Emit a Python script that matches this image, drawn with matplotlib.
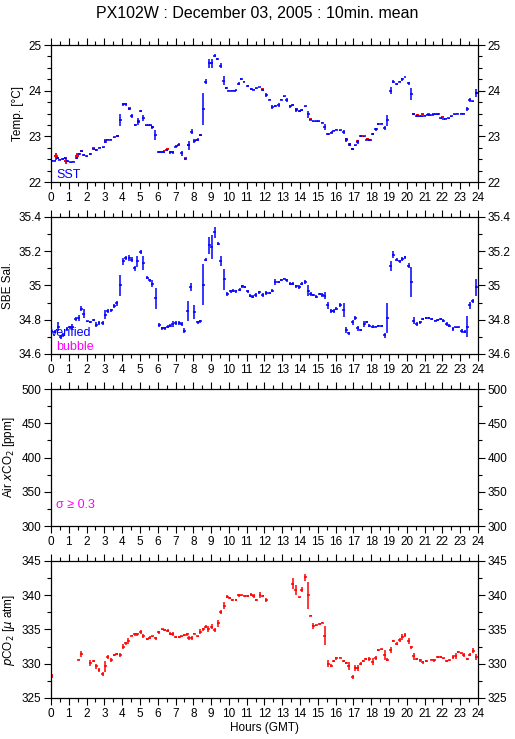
import numpy as np
import matplotlib
matplotlib.use('Agg')
import matplotlib.pyplot as plt
from matplotlib.ticker import MultipleLocator

plt.rcParams['font.family'] = ['Liberation Sans', 'DejaVu Sans']
plt.rcParams['font.size'] = 8.5

# ---- SST (blue) ----
temp_hours = [0.05, 0.2, 0.37, 0.5, 0.65, 0.8, 0.95, 1.1, 1.25, 1.45, 1.6, 1.72, 1.85, 2.0, 2.2, 2.4,
              2.55, 2.75, 2.95, 3.05, 3.2, 3.35, 3.55, 3.75, 3.9, 4.05, 4.2, 4.4, 4.55, 4.75, 4.9, 5.05,
              5.2, 5.35, 5.5, 5.6, 5.7, 5.85, 6.05, 6.2, 6.35, 6.5, 6.7, 6.85, 7.0, 7.15, 7.35, 7.55,
              7.75, 7.9, 8.05, 8.25, 8.4, 8.55, 8.7, 8.9, 9.05, 9.2, 9.35, 9.55, 9.7, 9.85, 10.0, 10.15,
              10.3, 10.4, 10.55, 10.7, 10.85, 11.05, 11.25, 11.4, 11.55, 11.7, 11.9, 12.1, 12.3, 12.45,
              12.6, 12.8, 12.95, 13.1, 13.25, 13.45, 13.6, 13.8, 13.95, 14.1, 14.3, 14.45, 14.6, 14.75,
              14.9, 15.05, 15.25, 15.4, 15.55, 15.75, 15.9, 16.05, 16.25, 16.45, 16.6, 16.8, 16.95, 17.1,
              17.25, 17.4, 17.6, 17.75, 17.9, 18.1, 18.25, 18.4, 18.6, 18.75, 18.9, 19.1, 19.25, 19.45,
              19.6, 19.75, 19.9, 20.1, 20.25, 20.4, 20.55, 20.7, 20.85, 21.0, 21.15, 21.3, 21.45, 21.6,
              21.75, 21.9, 22.05, 22.2, 22.35, 22.5, 22.7, 22.85, 23.05, 23.2, 23.4, 23.55, 23.7, 23.9]
temp_vals = [22.47, 22.47, 22.52, 22.49, 22.5, 22.53, 22.45, 22.43, 22.44, 22.52, 22.62, 22.67, 22.6,
             22.56, 22.62, 22.72, 22.7, 22.75, 22.76, 22.88, 22.93, 22.93, 22.98, 23.0, 23.35, 23.7,
             23.7, 23.6, 23.45, 23.25, 23.32, 23.55, 23.4, 23.24, 23.24, 23.24, 23.2, 23.03, 22.66,
             22.65, 22.65, 22.7, 22.65, 22.65, 22.77, 22.8, 22.63, 22.5, 22.8, 23.1, 22.9, 22.93, 23.02,
             23.6, 24.2, 24.6, 24.6, 24.77, 24.7, 24.55, 24.22, 24.05, 24.0, 24.0, 24.0, 24.01, 24.15,
             24.25, 24.2, 24.1, 24.03, 24.02, 24.05, 24.08, 24.01, 23.9, 23.8, 23.64, 23.67, 23.69, 23.8,
             23.88, 23.8, 23.66, 23.68, 23.57, 23.55, 23.57, 23.66, 23.48, 23.36, 23.33, 23.33, 23.33,
             23.3, 23.2, 23.05, 23.08, 23.12, 23.14, 23.13, 23.1, 22.92, 22.82, 22.72, 22.8, 22.87, 23.0,
             23.0, 22.93, 22.92, 23.05, 23.15, 23.27, 23.28, 23.18, 23.35, 24.0, 24.2, 24.15, 24.2, 24.25,
             24.3, 24.16, 23.92, 23.48, 23.45, 23.44, 23.44, 23.45, 23.47, 23.46, 23.47, 23.48, 23.48,
             23.4, 23.38, 23.39, 23.4, 23.44, 23.48, 23.5, 23.5, 23.5, 23.6, 23.8, 23.77, 23.95]
temp_err = [0.01, 0.01, 0.02, 0.01, 0.02, 0.02, 0.01, 0.01, 0.01, 0.02, 0.02, 0.01, 0.02, 0.02, 0.02,
            0.01, 0.02, 0.01, 0.01, 0.03, 0.02, 0.01, 0.01, 0.01, 0.13, 0.03, 0.03, 0.02, 0.05, 0.02,
            0.08, 0.02, 0.07, 0.01, 0.01, 0.01, 0.03, 0.1, 0.02, 0.02, 0.01, 0.01, 0.04, 0.04, 0.01,
            0.02, 0.05, 0.01, 0.1, 0.05, 0.04, 0.04, 0.01, 0.35, 0.06, 0.1, 0.1, 0.03, 0.02, 0.05, 0.1,
            0.02, 0.01, 0.01, 0.01, 0.01, 0.03, 0.02, 0.02, 0.02, 0.02, 0.01, 0.01, 0.01, 0.01, 0.04,
            0.01, 0.05, 0.02, 0.04, 0.01, 0.01, 0.04, 0.03, 0.02, 0.04, 0.01, 0.02, 0.01, 0.08, 0.01,
            0.01, 0.01, 0.01, 0.01, 0.06, 0.01, 0.01, 0.01, 0.01, 0.01, 0.04, 0.04, 0.03, 0.02, 0.01,
            0.04, 0.01, 0.01, 0.02, 0.02, 0.03, 0.04, 0.02, 0.01, 0.05, 0.12, 0.08, 0.03, 0.02, 0.02,
            0.03, 0.01, 0.03, 0.13, 0.02, 0.02, 0.01, 0.01, 0.01, 0.01, 0.01, 0.01, 0.01, 0.01, 0.01,
            0.01, 0.01, 0.01, 0.01, 0.01, 0.01, 0.01, 0.01, 0.05, 0.04, 0.01, 0.08]

# ---- equilibrator temperature (red, mostly hidden) ----
eq_hours = [0.3, 0.85, 1.45, 1.7, 2.4, 3.05, 3.75, 4.4, 4.9, 5.7, 6.35, 6.55, 7.05, 7.2, 7.55, 7.75,
            8.15, 8.4, 11.9, 13.8, 14.0, 14.6, 15.6, 15.8, 16.6, 16.8, 16.95, 17.25, 17.45, 17.8,
            17.95, 18.1, 18.3, 20.4, 20.6, 20.9, 21.2, 21.5, 21.8, 22.0, 23.9]
eq_vals = [22.55, 22.45, 22.56, 22.67, 22.73, 22.92, 23.0, 23.6, 23.33, 23.2, 22.66, 22.71, 22.78,
           22.82, 22.51, 22.8, 22.92, 23.02, 24.02, 23.58, 23.55, 23.36, 23.05, 23.08, 22.93, 22.82,
           22.72, 22.88, 23.0, 22.94, 22.92, 23.05, 23.15, 23.48, 23.46, 23.47, 23.48, 23.48, 23.48,
           23.41, 23.95]
eq_err = [0.08, 0.07, 0.06, 0.01, 0.01, 0.01, 0.01, 0.01, 0.01, 0.01, 0.01, 0.01, 0.01, 0.01, 0.01,
          0.01, 0.01, 0.01, 0.01, 0.01, 0.01, 0.01, 0.01, 0.01, 0.01, 0.01, 0.01, 0.01, 0.01, 0.01,
          0.01, 0.01, 0.01, 0.01, 0.01, 0.01, 0.01, 0.01, 0.01, 0.01, 0.01]
eq_xerr = [0.12, 0.12, 0.1, 0.08, 0.08, 0.08, 0.08, 0.08, 0.08, 0.08, 0.08, 0.08, 0.08, 0.08, 0.08,
           0.08, 0.08, 0.08, 0.08, 0.08, 0.08, 0.08, 0.08, 0.08, 0.08, 0.08, 0.08, 0.08, 0.08, 0.08,
           0.08, 0.08, 0.08, 0.08, 0.08, 0.08, 0.08, 0.08, 0.08, 0.08, 0.08]

# ---- SBE salinity ----
sal_hours = [0.0, 0.2, 0.4, 0.55, 0.7, 0.9, 1.05, 1.2, 1.4, 1.55, 1.7, 1.85, 2.05, 2.2, 2.4, 2.55, 2.7,
             2.9, 3.05, 3.2, 3.4, 3.55, 3.7, 3.9, 4.05, 4.2, 4.4, 4.55, 4.7, 4.85, 5.05, 5.2, 5.4, 5.55,
             5.7, 5.9, 6.1, 6.25, 6.4, 6.55, 6.7, 6.85, 7.0, 7.2, 7.35, 7.5, 7.7, 7.85, 8.05, 8.25, 8.4,
             8.55, 8.7, 8.9, 9.05, 9.2, 9.4, 9.55, 9.75, 9.9, 10.1, 10.25, 10.4, 10.6, 10.75, 10.9,
             11.05, 11.2, 11.35, 11.5, 11.7, 11.9, 12.1, 12.3, 12.45, 12.6, 12.8, 12.95, 13.1, 13.25,
             13.45, 13.6, 13.8, 13.95, 14.1, 14.3, 14.45, 14.6, 14.75, 14.9, 15.1, 15.25, 15.4, 15.55,
             15.75, 15.9, 16.05, 16.25, 16.45, 16.6, 16.75, 16.95, 17.1, 17.25, 17.4, 17.6, 17.75, 17.9,
             18.1, 18.25, 18.4, 18.6, 18.75, 18.9, 19.1, 19.25, 19.45, 19.6, 19.75, 19.9, 20.1, 20.25,
             20.4, 20.55, 20.75, 20.9, 21.1, 21.25, 21.4, 21.6, 21.75, 21.9, 22.05, 22.25, 22.4, 22.6,
             22.75, 22.9, 23.1, 23.25, 23.4, 23.55, 23.7, 23.9]
sal_vals = [34.74, 34.73, 34.76, 34.7, 34.71, 34.745, 34.755, 34.76, 34.805, 34.81, 34.865, 34.835,
            34.79, 34.785, 34.8, 34.77, 34.78, 34.78, 34.83, 34.85, 34.855, 34.88, 34.895, 35.0, 35.14,
            35.16, 35.16, 35.15, 35.1, 35.14, 35.195, 35.13, 35.045, 35.03, 35.01, 34.925, 34.77, 34.75,
            34.75, 34.76, 34.765, 34.775, 34.78, 34.78, 34.775, 34.735, 34.85, 34.99, 34.845, 34.785,
            34.79, 35.005, 35.15, 35.235, 35.225, 35.31, 35.245, 35.145, 35.035, 34.95, 34.965, 34.97,
            34.965, 34.975, 34.995, 34.99, 34.965, 34.94, 34.935, 34.945, 34.96, 34.945, 34.955, 34.955,
            34.97, 35.02, 35.02, 35.03, 35.04, 35.03, 35.01, 35.01, 34.995, 34.99, 35.01, 35.02, 34.97,
            34.95, 34.945, 34.935, 34.95, 34.945, 34.94, 34.885, 34.85, 34.85, 34.865, 34.885, 34.855,
            34.74, 34.72, 34.785, 34.81, 34.75, 34.74, 34.775, 34.785, 34.765, 34.76, 34.76, 34.765,
            34.765, 34.71, 34.81, 35.115, 35.18, 35.15, 35.14, 35.155, 35.165, 35.115, 35.02, 34.795,
            34.775, 34.785, 34.805, 34.81, 34.81, 34.805, 34.795, 34.8, 34.805, 34.795, 34.775, 34.765,
            34.745, 34.755, 34.755, 34.735, 34.73, 34.76, 34.885, 34.91, 34.99]
sal_err = [0.015, 0.01, 0.025, 0.01, 0.01, 0.01, 0.01, 0.015, 0.01, 0.015, 0.015, 0.025, 0.005, 0.005,
           0.005, 0.015, 0.01, 0.01, 0.025, 0.01, 0.01, 0.01, 0.015, 0.06, 0.02, 0.01, 0.02, 0.015,
           0.015, 0.03, 0.01, 0.04, 0.01, 0.01, 0.02, 0.06, 0.01, 0.01, 0.01, 0.01, 0.01, 0.015, 0.01,
           0.01, 0.01, 0.015, 0.06, 0.025, 0.04, 0.01, 0.01, 0.12, 0.01, 0.05, 0.07, 0.03, 0.01, 0.03,
           0.06, 0.01, 0.01, 0.01, 0.01, 0.01, 0.01, 0.005, 0.01, 0.01, 0.01, 0.01, 0.01, 0.01, 0.01,
           0.005, 0.01, 0.015, 0.005, 0.005, 0.005, 0.01, 0.01, 0.01, 0.01, 0.01, 0.01, 0.01, 0.03,
           0.01, 0.005, 0.01, 0.005, 0.01, 0.02, 0.02, 0.01, 0.01, 0.01, 0.01, 0.04, 0.02, 0.01, 0.015,
           0.01, 0.015, 0.005, 0.015, 0.005, 0.01, 0.01, 0.005, 0.005, 0.005, 0.015, 0.09, 0.03, 0.02,
           0.01, 0.01, 0.01, 0.01, 0.015, 0.09, 0.02, 0.01, 0.01, 0.005, 0.005, 0.005, 0.005, 0.005,
           0.005, 0.005, 0.01, 0.01, 0.01, 0.01, 0.005, 0.005, 0.01, 0.01, 0.06, 0.02, 0.01, 0.05]

# ---- pCO2 ----
pco2_hours = [0.05, 1.55, 1.7, 2.2, 2.4, 2.55, 2.7, 2.9, 3.05, 3.2, 3.4, 3.55, 3.7, 3.9, 4.05, 4.2,
              4.35, 4.55, 4.7, 4.85, 5.05, 5.2, 5.4, 5.55, 5.7, 5.9, 6.05, 6.25, 6.4, 6.55, 6.7, 6.85,
              7.0, 7.2, 7.35, 7.5, 7.65, 7.75, 7.9, 8.05, 8.25, 8.4, 8.55, 8.7, 8.85, 9.05, 9.2, 9.4,
              9.55, 9.75, 9.9, 10.05, 10.2, 10.4, 10.55, 10.7, 10.9, 11.05, 11.25, 11.4, 11.55, 11.75,
              11.9, 12.1, 13.6, 13.75, 13.95, 14.1, 14.3, 14.45, 14.6, 14.75, 14.9, 15.1, 15.25, 15.4,
              15.6, 15.75, 15.9, 16.05, 16.25, 16.45, 16.6, 16.75, 16.95, 17.1, 17.25, 17.4, 17.55,
              17.7, 17.9, 18.1, 18.25, 18.4, 18.6, 18.75, 18.9, 19.1, 19.25, 19.45, 19.6, 19.75, 19.9,
              20.1, 20.25, 20.4, 20.55, 20.75, 20.9, 21.1, 21.4, 21.55, 21.75, 21.9, 22.05, 22.25, 22.4,
              22.6, 22.75, 22.9, 23.05, 23.2, 23.4, 23.55, 23.75, 23.9]
pco2_vals = [328.2, 330.6, 331.4, 330.1, 330.4, 329.6, 329.1, 328.5, 329.6, 331.0, 330.6, 331.3, 331.4,
             331.3, 332.5, 333.0, 333.3, 334.1, 334.3, 334.3, 334.6, 334.0, 333.6, 333.8, 334.0, 333.7,
             334.6, 335.0, 334.9, 334.8, 334.4, 334.3, 333.9, 333.9, 334.0, 334.2, 334.3, 333.7, 333.8,
             334.4, 334.0, 334.7, 335.0, 335.4, 335.1, 335.4, 334.9, 335.9, 337.6, 338.5, 339.8, 339.6,
             339.3, 339.3, 340.0, 340.0, 339.9, 339.9, 340.1, 339.9, 339.3, 340.0, 339.9, 339.3, 341.7,
             340.8, 339.7, 340.8, 342.6, 340.0, 337.0, 335.5, 335.6, 335.8, 336.0, 334.1, 330.0, 329.7,
             330.4, 330.8, 330.9, 330.4, 330.1, 329.7, 328.0, 329.4, 329.4, 330.0, 330.4, 330.7, 330.7,
             330.3, 330.8, 332.0, 332.1, 331.3, 330.6, 332.0, 333.3, 332.9, 333.4, 333.9, 334.2, 333.3,
             332.4, 331.1, 330.7, 330.5, 330.2, 330.4, 330.6, 330.5, 331.0, 331.0, 330.8, 330.4, 330.5,
             331.0, 331.1, 331.7, 331.5, 331.3, 330.7, 331.3, 331.9, 331.0]
pco2_err = [0.3, 0.1, 0.4, 0.5, 0.2, 0.4, 0.3, 0.3, 0.8, 0.3, 0.3, 0.1, 0.1, 0.3, 0.4, 0.2, 0.4, 0.1,
            0.2, 0.2, 0.3, 0.3, 0.2, 0.2, 0.1, 0.2, 0.2, 0.1, 0.1, 0.2, 0.2, 0.3, 0.2, 0.2, 0.1, 0.2,
            0.2, 0.3, 0.3, 0.1, 0.1, 0.3, 0.2, 0.2, 0.4, 0.4, 0.3, 0.5, 0.3, 0.5, 0.2, 0.1, 0.1, 0.1,
            0.2, 0.1, 0.1, 0.1, 0.2, 0.3, 0.1, 0.4, 0.2, 0.3, 0.8, 0.7, 0.1, 0.4, 0.5, 2.0, 0.1, 0.5,
            0.1, 0.1, 0.1, 1.4, 0.5, 0.2, 0.2, 0.2, 0.1, 0.2, 0.2, 0.6, 0.3, 0.4, 0.4, 0.2, 0.2, 0.2,
            0.3, 0.5, 0.3, 0.1, 0.1, 0.7, 0.2, 0.5, 0.2, 0.2, 0.3, 0.4, 0.3, 0.4, 0.2, 0.5, 0.2, 0.2,
            0.2, 0.2, 0.1, 0.2, 0.1, 0.1, 0.1, 0.1, 0.1, 0.3, 0.4, 0.2, 0.1, 0.3, 0.2, 0.2, 0.4, 0.4]

half_bin = 5 / 60.0   # 10 min mean -> +/- 5 min

fig = plt.figure(figsize=(5.15, 7.39), dpi=100)
fig.text(0.5, 0.992, 'PX102W : December 03, 2005 : 10min. mean', ha='center', va='top', fontsize=11.5)

panels = [
    (0.7537, (22, 25), 1, 0.25, 'Temp. [°C]'),
    (0.5210, (34.6, 35.4), 0.2, 0.1, 'SBE Sal.'),
    (0.2882, (300, 500), 50, 25, r'Air $x$CO$_2$ [ppm]'),
    (0.0555, (325, 345), 5, 2.5, r'$p$CO$_2$ [$\mu$ atm]'),
]

axes = []
for bottom, ylim, major, minor, ylabel in panels:
    ax = fig.add_axes([0.099, bottom, 0.829, 0.1854])
    ax.set_xlim(0, 24)
    ax.set_ylim(*ylim)
    ax.xaxis.set_major_locator(MultipleLocator(1))
    ax.xaxis.set_minor_locator(MultipleLocator(0.5))
    ax.yaxis.set_major_locator(MultipleLocator(major))
    ax.yaxis.set_minor_locator(MultipleLocator(minor))
    ax.tick_params(which='both', direction='out', top=True, right=True, labelright=True,
                   labelsize=8.5, pad=2, width=0.8)
    ax.tick_params(which='major', length=5)
    ax.tick_params(which='minor', length=3)
    ax.set_ylabel(ylabel, fontsize=8.5, labelpad=3)
    for s in ax.spines.values():
        s.set_linewidth(0.9)
    axes.append(ax)

ax1, ax2, ax3, ax4 = axes
ax1.yaxis.set_major_formatter(plt.FuncFormatter(lambda v, p: '%g' % v))
ax2.yaxis.set_major_formatter(plt.FuncFormatter(lambda v, p: '%g' % round(v, 1)))

# temperature
ax1.errorbar(eq_hours, np.array(eq_vals) + 0.01, xerr=eq_xerr, yerr=eq_err, fmt='none',
             ecolor='red', elinewidth=1.4, capsize=0)
ax1.errorbar(temp_hours, temp_vals, xerr=half_bin, yerr=temp_err, fmt='none',
             ecolor='blue', elinewidth=1.1, capsize=0)
ax1.text(0.012, 0.03, 'SST', transform=ax1.transAxes, color='blue', fontsize=9)

# salinity
ax2.errorbar(sal_hours, sal_vals, xerr=half_bin, yerr=sal_err, fmt='none',
             ecolor='blue', elinewidth=1.1, capsize=0)
ax2.text(0.0, 0.13, 'verified', transform=ax2.transAxes, color='blue', fontsize=9)
ax2.text(0.012, 0.03, 'bubble', transform=ax2.transAxes, color='magenta', fontsize=9)

# air xCO2 (no data)
ax3.text(0.012, 0.13, 'σ ≥ 0.3', transform=ax3.transAxes, color='magenta', fontsize=9)

# pCO2
ax4.errorbar(pco2_hours, pco2_vals, xerr=half_bin, yerr=pco2_err, fmt='none',
             ecolor='red', elinewidth=1.1, capsize=0)
ax4.set_xlabel('Hours (GMT)', fontsize=8.5, labelpad=2)

fig.savefig('out.png', dpi=100)
